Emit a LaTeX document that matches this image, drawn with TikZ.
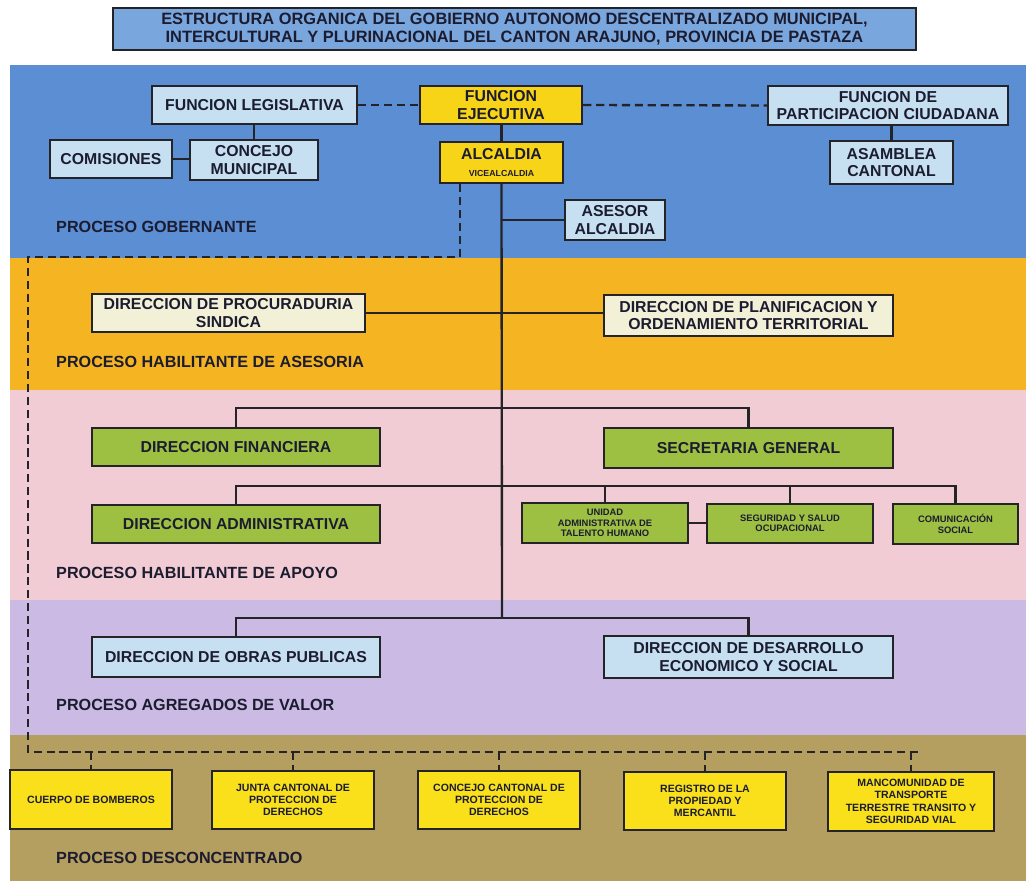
\documentclass[tikz,border=0pt]{standalone}
\usepackage{fontspec}
\setmainfont{Liberation Sans}
\usepackage{xcolor}
\usepackage{tikz}
\usetikzlibrary{positioning}

\definecolor{bandblue}{RGB}{92,142,212}
\definecolor{bandorange}{RGB}{245,181,35}
\definecolor{bandpink}{RGB}{242,204,212}
\definecolor{bandlilac}{RGB}{202,186,228}
\definecolor{bandkhaki}{RGB}{180,158,96}
\definecolor{titleblue}{RGB}{122,166,222}
\definecolor{paleblue}{RGB}{198,224,242}
\definecolor{gold}{RGB}{247,212,23}
\definecolor{cream}{RGB}{243,240,216}
\definecolor{leaf}{RGB}{158,192,66}
\definecolor{lemon}{RGB}{249,224,26}
\definecolor{edge}{RGB}{36,36,40}
\definecolor{ink}{RGB}{28,28,48}

\begin{document}
\begin{tikzpicture}[x=0.03cm, y=-0.03cm]
  % Styles
  \tikzstyle{unit}=[draw=edge, line width=2.1pt, align=center, inner sep=1pt, text=ink, font=\bfseries\fontsize{13.5}{15}\selectfont]
  \tikzstyle{pale}=[unit, fill=paleblue]
  \tikzstyle{exec}=[unit, fill=gold]
  \tikzstyle{advice}=[unit, fill=cream]
  \tikzstyle{support}=[unit, fill=leaf]
  \tikzstyle{supsmall}=[unit, fill=leaf, font=\bfseries\fontsize{8}{9}\selectfont]
  \tikzstyle{valor}=[unit, fill=paleblue]
  \tikzstyle{decon}=[unit, fill=lemon, font=\bfseries\fontsize{9}{10.5}\selectfont]
  \tikzstyle{lab}=[anchor=west, inner sep=0pt, text=ink, font=\bfseries\fontsize{13.8}{15}\selectfont]
  \tikzstyle{link}=[draw=edge, line width=2pt]
  \tikzstyle{dlink}=[draw=edge, line width=2pt, dash pattern=on 7pt off 4pt]

  \useasboundingbox (0,0) rectangle (1026,881);
  \fill[white] (0,0) rectangle (1026,881);

  % Process bands
  \fill[bandblue]   (10,65)  rectangle (1026,258);
  \fill[bandorange] (10,258) rectangle (1026,390);
  \fill[bandpink]   (10,390) rectangle (1026,600);
  \fill[bandlilac]  (10,600) rectangle (1026,735);
  \fill[bandkhaki]  (10,735) rectangle (1026,881);

  % Title
  \node[unit, fill=titleblue, font=\bfseries\fontsize{14}{15}\selectfont, minimum width=803*0.03cm, minimum height=42*0.03cm] (title) at (514.5,29)
    {ESTRUCTURA ORGANICA DEL GOBIERNO AUTONOMO DESCENTRALIZADO MUNICIPAL,\\INTERCULTURAL Y PLURINACIONAL DEL CANTON ARAJUNO, PROVINCIA DE PASTAZA};

  % Proceso gobernante
  \node[pale, minimum width=205*0.03cm, minimum height=38*0.03cm] (legis) at (254.5,105) {FUNCION LEGISLATIVA};
  \node[exec, minimum width=162*0.03cm, minimum height=38*0.03cm] (ejec) at (501,105) {FUNCION\\EJECUTIVA};
  \node[pale, minimum width=240*0.03cm, minimum height=39*0.03cm] (partic) at (888,105.5) {FUNCION DE\\PARTICIPACION CIUDADANA};
  \node[pale, minimum width=122*0.03cm, minimum height=38*0.03cm] (comis) at (111,159) {COMISIONES};
  \node[pale, minimum width=128*0.03cm, minimum height=40*0.03cm] (concejo) at (254,160) {CONCEJO\\MUNICIPAL};
  \node[exec, minimum width=123*0.03cm, minimum height=41*0.03cm] (alcaldia) at (501.5,162.5) {ALCALDIA\\{\fontsize{7.5}{8}\selectfont VICEALCALDIA}};
  \node[pale, minimum width=123*0.03cm, minimum height=43*0.03cm] (asamblea) at (891.5,162.5) {ASAMBLEA\\CANTONAL};
  \node[pale, minimum width=100*0.03cm, minimum height=40*0.03cm] (asesor) at (615,220) {ASESOR\\ALCALDIA};
  \node[lab] (l_gob) at (56,227) {PROCESO GOBERNANTE};

  \draw[dlink] (legis.east) -- (ejec.west);
  \draw[dlink] (ejec.east) -- (partic.west);
  \draw[link] (concejo.north |- legis.south) -- (concejo.north);
  \draw[link] (comis.east) -- (comis.east -| concejo.west);
  \draw[link] (alcaldia.north |- ejec.south) -- (alcaldia.north);
  \draw[link] (partic.south -| asamblea.north) -- (asamblea.north);
  \draw[link] (asesor.west) -- (asesor.west -| alcaldia.south);

  % Proceso habilitante de asesoria
  \node[advice, minimum width=273*0.03cm, minimum height=38*0.03cm] (procu) at (228.5,313) {DIRECCION DE PROCURADURIA\\SINDICA};
  \node[advice, minimum width=289*0.03cm, minimum height=41*0.03cm] (planif) at (748.5,315.5) {DIRECCION DE PLANIFICACION Y\\ORDENAMIENTO TERRITORIAL};
  \node[lab] (l_ases) at (56,362) {PROCESO HABILITANTE DE ASESORIA};
  \draw[link] (procu.east) -- (procu.east -| planif.west);

  % Proceso habilitante de apoyo
  \node[support, minimum width=288*0.03cm, minimum height=38*0.03cm] (finan) at (236,447) {DIRECCION FINANCIERA};
  \node[support, minimum width=289*0.03cm, minimum height=40*0.03cm] (secre) at (748.5,448) {SECRETARIA GENERAL};
  \node[support, minimum width=288*0.03cm, minimum height=38*0.03cm] (admin) at (236,524) {DIRECCION ADMINISTRATIVA};
  \node[supsmall, minimum width=166*0.03cm, minimum height=40*0.03cm] (talento) at (605,523) {UNIDAD\\ADMINISTRATIVA DE\\TALENTO HUMANO};
  \node[supsmall, minimum width=166*0.03cm, minimum height=39*0.03cm] (segur) at (790,523.5) {SEGURIDAD Y SALUD\\OCUPACIONAL};
  \node[supsmall, minimum width=125*0.03cm, minimum height=40*0.03cm] (comun) at (955.5,524) {COMUNICACIÓN\\SOCIAL};
  \node[lab] (l_apoyo) at (56,573) {PROCESO HABILITANTE DE APOYO};

  \coordinate (bar1) at (502,408);
  \coordinate (bar2) at (502,486);
  \draw[link] (finan.north) |- (bar1) -| (secre.north);
  \draw[link] (admin.north) |- (bar2) -| (comun.north);
  \draw[link] (talento.north |- bar2) -- (talento.north);
  \draw[link] (segur.north |- bar2) -- (segur.north);
  \draw[link] (talento.east) -- (talento.east -| segur.west);

  % Proceso agregados de valor
  \node[valor, minimum width=288*0.03cm, minimum height=40*0.03cm] (obras) at (236,657) {DIRECCION DE OBRAS PUBLICAS};
  \node[valor, minimum width=289*0.03cm, minimum height=42*0.03cm] (desarr) at (748.5,657) {DIRECCION DE DESARROLLO\\ECONOMICO Y SOCIAL};
  \node[lab] (l_valor) at (56,705) {PROCESO AGREGADOS DE VALOR};

  \coordinate (bar3) at (502,618);
  \draw[link] (alcaldia.south) -- (bar3);
  \draw[link] (obras.north) |- (bar3) -| (desarr.north);

  % Proceso desconcentrado
  \node[decon, minimum width=162*0.03cm, minimum height=59*0.03cm] (bomb) at (91,799.5) {CUERPO DE BOMBEROS};
  \node[decon, minimum width=162*0.03cm, minimum height=58*0.03cm] (junta) at (293,800) {JUNTA CANTONAL DE\\PROTECCION DE\\DERECHOS};
  \node[decon, minimum width=162*0.03cm, minimum height=58*0.03cm] (ccpd) at (499,800) {CONCEJO CANTONAL DE\\PROTECCION DE\\DERECHOS};
  \node[decon, minimum width=162*0.03cm, minimum height=58*0.03cm] (regis) at (705,801) {REGISTRO DE LA\\PROPIEDAD Y\\MERCANTIL};
  \node[decon, minimum width=166*0.03cm, minimum height=59*0.03cm] (manco) at (911,801.5) {MANCOMUNIDAD DE\\TRANSPORTE\\TERRESTRE TRANSITO Y\\SEGURIDAD VIAL};
  \node[lab] (l_decon) at (56,858) {PROCESO DESCONCENTRADO};

  \coordinate (dcorner) at (28,257);
  \coordinate (dleft) at (28,752);
  \coordinate (dright) at (918,752);
  \draw[dlink] ([xshift=21*0.03cm]alcaldia.south west) |- (dcorner) -- (dleft) -- (dright);
  \draw[dlink] (bomb.north |- dright) -- (bomb.north);
  \draw[dlink] (junta.north |- dright) -- (junta.north);
  \draw[dlink] (ccpd.north |- dright) -- (ccpd.north);
  \draw[dlink] (regis.north |- dright) -- (regis.north);
  \draw[dlink] (manco.north |- dright) -- (manco.north);
\end{tikzpicture}
\end{document}
